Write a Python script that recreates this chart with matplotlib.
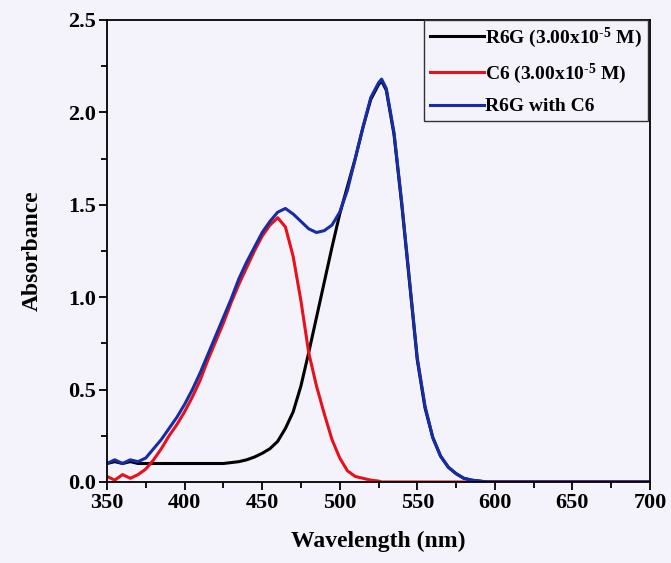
import matplotlib as mpl
import matplotlib.pyplot as plt
from matplotlib.ticker import MultipleLocator

mpl.rcParams['font.family'] = ['Liberation Serif', 'DejaVu Serif']
mpl.rcParams['font.weight'] = 'bold'
mpl.rcParams['mathtext.fontset'] = 'custom'
mpl.rcParams['mathtext.rm'] = 'Liberation Serif:bold'
mpl.rcParams['mathtext.default'] = 'rm'
mpl.rcParams['axes.unicode_minus'] = False

# wavelength grid (nm), spectra beyond 600 nm are flat at zero
wavelength = [350, 355, 360, 365, 370, 375, 380, 385, 390, 395,
              400, 405, 410, 415, 420, 425, 430, 435, 440, 445,
              450, 455, 460, 465, 470, 475, 480, 485, 490, 495,
              500, 505, 510, 515, 520, 525, 527, 530, 535, 540, 545,
              550, 555, 560, 565, 570, 575, 580, 585, 590, 595,
              600, 700]

r6g = [0.10, 0.11, 0.10, 0.11, 0.10, 0.10, 0.10, 0.10, 0.10, 0.10,
       0.10, 0.10, 0.10, 0.10, 0.10, 0.10, 0.105, 0.11, 0.12, 0.135,
       0.155, 0.18, 0.22, 0.29, 0.38, 0.52, 0.70, 0.89, 1.08, 1.27,
       1.45, 1.60, 1.75, 1.92, 2.07, 2.15, 2.17, 2.12, 1.88, 1.50, 1.08,
       0.66, 0.40, 0.24, 0.14, 0.08, 0.045, 0.02, 0.01, 0.005, 0.0,
       0.0, 0.0]

c6 = [0.03, 0.01, 0.04, 0.02, 0.04, 0.07, 0.12, 0.18, 0.25, 0.31,
      0.38, 0.46, 0.55, 0.66, 0.76, 0.86, 0.97, 1.07, 1.16, 1.25,
      1.33, 1.39, 1.43, 1.38, 1.22, 0.98, 0.70, 0.52, 0.37, 0.23,
      0.13, 0.06, 0.03, 0.02, 0.01, 0.005, 0.0, 0.0, 0.0, 0.0, 0.0,
      0.0, 0.0, 0.0, 0.0, 0.0, 0.0, 0.0, 0.0, 0.0, 0.0,
      0.0, 0.0]

mix = [0.10, 0.12, 0.10, 0.12, 0.11, 0.13, 0.18, 0.23, 0.29, 0.35,
       0.42, 0.50, 0.59, 0.69, 0.79, 0.89, 0.99, 1.10, 1.19, 1.27,
       1.35, 1.41, 1.46, 1.48, 1.45, 1.41, 1.37, 1.35, 1.36, 1.39,
       1.46, 1.58, 1.75, 1.92, 2.08, 2.16, 2.18, 2.13, 1.89, 1.51, 1.09,
       0.67, 0.41, 0.24, 0.14, 0.08, 0.045, 0.02, 0.01, 0.005, 0.0,
       0.0, 0.0]

labels = [r'R6G (3.00x10$^{\text{-}5}$ M)', r'C6 (3.00x10$^{\text{-}5}$ M)', 'R6G with C6']
colors = ['black', '#e8101a', '#172da5']

bg = '#f4f3fb'
fig = plt.figure(figsize=(6.71, 5.63), dpi=100, facecolor=bg)
ax = fig.add_axes([0.1595, 0.1439, 0.8092, 0.8206], facecolor=bg)

for y, lab, c in zip([r6g, c6, mix], labels, colors):
    ax.plot(wavelength, y, color=c, lw=2.2, label=lab)

ax.set_xlim(350, 700)
ax.set_ylim(0, 2.5)
ax.xaxis.set_major_locator(MultipleLocator(50))
ax.xaxis.set_minor_locator(MultipleLocator(25))
ax.yaxis.set_major_locator(MultipleLocator(0.5))
ax.yaxis.set_minor_locator(MultipleLocator(0.25))
ax.yaxis.set_major_formatter(mpl.ticker.FormatStrFormatter('%.1f'))
ax.tick_params(which='both', direction='out', width=1.3, labelsize=16)
ax.tick_params(which='major', length=6, pad=2)
ax.tick_params(which='minor', length=4)
for s in ax.spines.values():
    s.set_linewidth(1.3)

ax.set_xlabel('Wavelength (nm)', fontsize=17, fontweight='bold', labelpad=13)
ax.set_ylabel('Absorbance', fontsize=17, fontweight='bold', labelpad=18)

leg = ax.legend(loc='upper right', bbox_to_anchor=(0.996, 1.0), borderaxespad=0,
                fontsize=14, handlelength=2.8, handletextpad=0.05,
                labelspacing=0.6, fancybox=False, framealpha=1,
                edgecolor='#333333', facecolor=bg, borderpad=0.3)
leg.get_frame().set_linewidth(1.0)

fig.savefig('out.png', dpi=100, facecolor=bg)
